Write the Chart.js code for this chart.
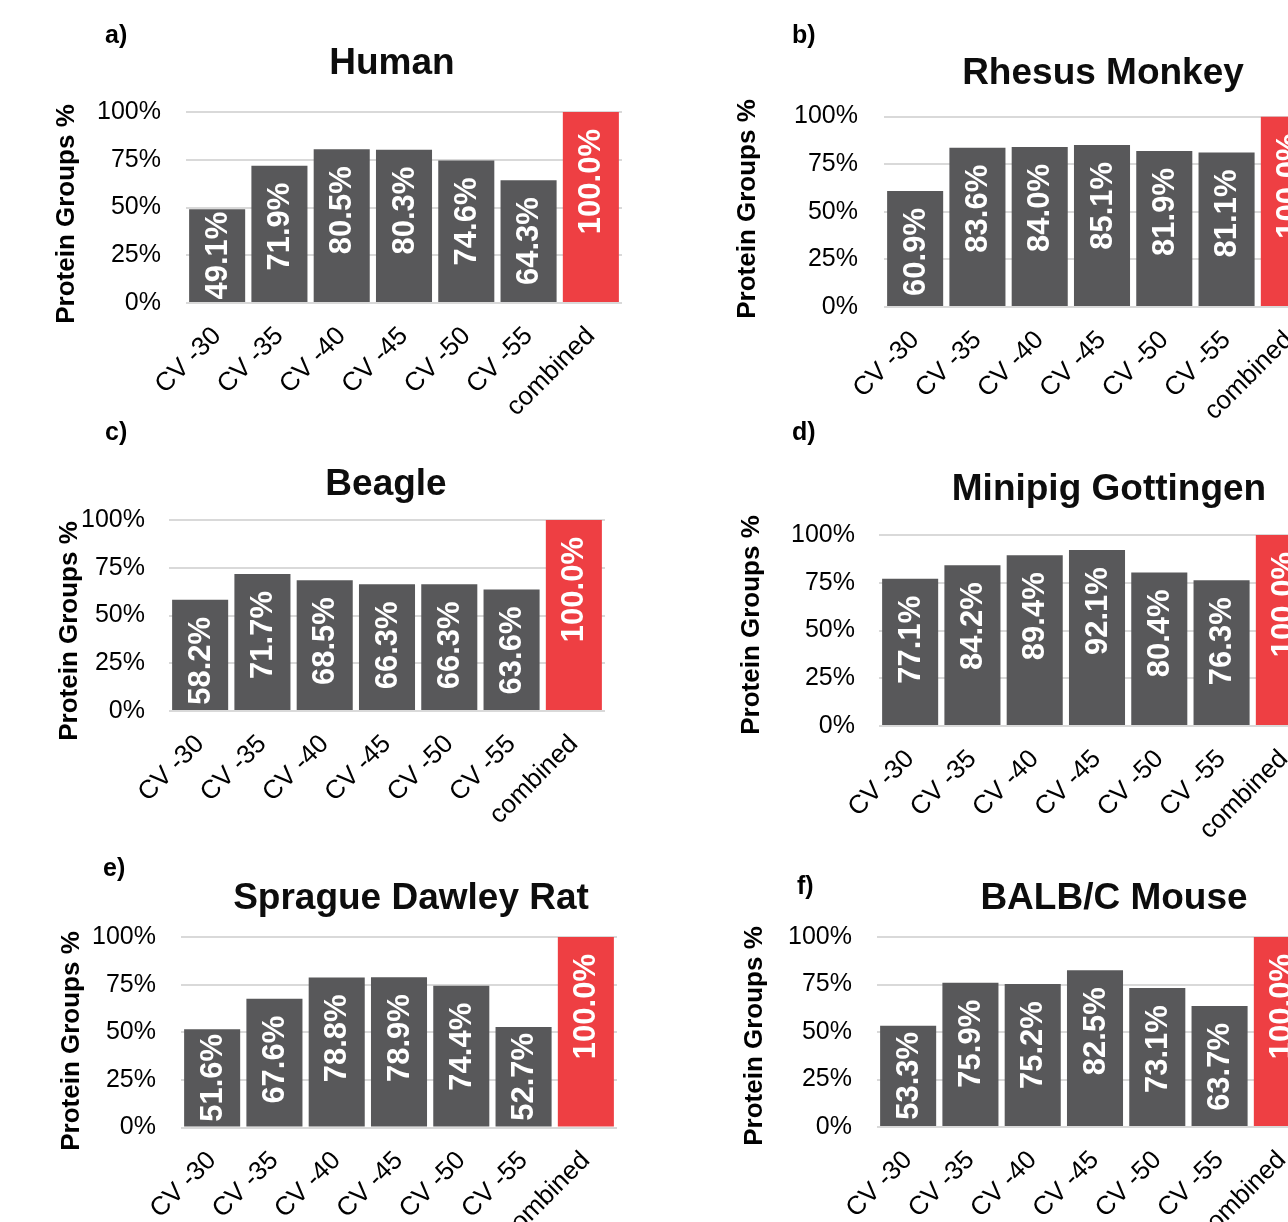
<!DOCTYPE html>
<html>
<head>
<meta charset="utf-8">
<script src="https://cdn.jsdelivr.net/npm/chart.js@4.4.1/dist/chart.umd.min.js"></script>
<style>
  html, body { margin: 0; padding: 0; background: #fff; overflow: hidden; width: 1288px; height: 1222px; position: relative; }
  canvas { position: absolute; }
</style>
</head>
<body>
<canvas id="panelA"></canvas>
<canvas id="panelB"></canvas>
<canvas id="panelC"></canvas>
<canvas id="panelD"></canvas>
<canvas id="panelE"></canvas>
<canvas id="panelF"></canvas>
<script>
// Protein groups identified per compensation voltage, as % of the combined set
const categories = ['CV -30', 'CV -35', 'CV -40', 'CV -45', 'CV -50', 'CV -55', 'combined'];
const humanValues   = [49.1, 71.9, 80.5, 80.3, 74.6, 64.3, 100.0];
const rhesusValues  = [60.9, 83.6, 84.0, 85.1, 81.9, 81.1, 100.0];
const beagleValues  = [58.2, 71.7, 68.5, 66.3, 66.3, 63.6, 100.0];
const minipigValues = [77.1, 84.2, 89.4, 92.1, 80.4, 76.3, 100.0];
const ratValues     = [51.6, 67.6, 78.8, 78.9, 74.4, 52.7, 100.0];
const mouseValues   = [53.3, 75.9, 75.2, 82.5, 73.1, 63.7, 100.0];
const yTickValues   = [0, 25, 50, 75, 100];
const panelTitles   = ['Human', 'Rhesus Monkey', 'Beagle', 'Minipig Gottingen', 'Sprague Dawley Rat', 'BALB/C Mouse'];
const panelLetters  = ['a)', 'b)', 'c)', 'd)', 'e)', 'f)'];
const yAxisTitle    = 'Protein Groups %';

const FONT = "'Liberation Sans', Arial, Helvetica, sans-serif";
const GRAY = '#58585a';
const RED = '#ee3f43';
const GRID = '#d9d9d9';

// Layout of each panel on the page: canvas box, plot area, label anchors
const layouts = [
  { box: [0, 0, 650, 440],    plot: [186, 112, 622, 303],   tickRight: 161, yTitle: [67, 214],  letter: [105, 35],  title: [392, 64] },
  { box: [650, 0, 700, 440],  plot: [884, 116.5, 1320, 307], tickRight: 858, yTitle: [748, 209], letter: [792, 35],  title: [1103, 74] },
  { box: [0, 420, 650, 440],  plot: [169, 520, 605, 711],   tickRight: 145, yTitle: [70, 631],  letter: [105, 432], title: [386, 485] },
  { box: [650, 420, 700, 440],plot: [879, 535, 1315, 726],  tickRight: 855, yTitle: [752, 625], letter: [792, 432], title: [1109, 490] },
  { box: [0, 840, 650, 382],  plot: [181, 937, 617, 1127.5],tickRight: 156, yTitle: [72, 1041], letter: [103, 868], title: [411, 899] },
  { box: [650, 840, 700, 382],plot: [877, 937, 1313, 1127], tickRight: 852, yTitle: [755, 1036],letter: [797, 886], title: [1114, 899] }
];
const seriesList = [humanValues, rhesusValues, beagleValues, minipigValues, ratValues, mouseValues];
const canvasIds = ['panelA', 'panelB', 'panelC', 'panelD', 'panelE', 'panelF'];

// Draws the panel letter, chart title, vertical axis title and in-bar value labels
const panelTextPlugin = {
  id: 'panelText',
  afterDatasetsDraw(chart) {
    const ctx = chart.ctx;
    const meta = chart.getDatasetMeta(0);
    const data = chart.data.datasets[0].data;
    ctx.save();
    ctx.font = 'bold 31px ' + FONT;
    ctx.fillStyle = '#ffffff';
    ctx.textBaseline = 'middle';
    ctx.textAlign = 'left';
    meta.data.forEach((bar, i) => {
      const txt = data[i].toFixed(1) + '%';
      const w = ctx.measureText(txt).width;
      const top = bar.y, base = bar.base;
      let startY = top + 17 + w;
      if (startY > base - 3) {
        startY = (top + base) / 2 + w / 2;
      }
      ctx.save();
      ctx.translate(bar.x, startY);
      ctx.rotate(-Math.PI / 2);
      ctx.fillText(txt, 0, 1);
      ctx.restore();
    });
    ctx.restore();
  },
  afterDraw(chart) {
    const o = chart.options.plugins.panelText;
    const ctx = chart.ctx;
    const [bx, by] = o.box;
    ctx.save();
    ctx.fillStyle = '#000';
    ctx.textBaseline = 'middle';
    ctx.font = 'bold 25px ' + FONT;
    ctx.textAlign = 'left';
    ctx.fillText(o.letter, o.letterPos[0] - bx, o.letterPos[1] - by + 1);
    ctx.font = 'bold 37px ' + FONT;
    ctx.textAlign = 'center';
    ctx.fillStyle = '#0d0d0d';
    ctx.fillText(o.title, o.titlePos[0] - bx, o.titlePos[1] - by);
    ctx.font = 'bold 26px ' + FONT;
    ctx.fillStyle = '#000';
    ctx.translate(o.yTitlePos[0] - bx, o.yTitlePos[1] - by);
    ctx.rotate(-Math.PI / 2);
    ctx.fillText(yAxisTitle, 0, 0);
    ctx.restore();
  }
};

layouts.forEach((L, k) => {
  const canvas = document.getElementById(canvasIds[k]);
  const [bx, by, bw, bh] = L.box;
  canvas.width = bw;
  canvas.height = bh;
  canvas.style.left = bx + 'px';
  canvas.style.top = by + 'px';
  canvas.style.width = bw + 'px';
  canvas.style.height = bh + 'px';
  const [pl, pt, pr, pb] = L.plot;
  const values = seriesList[k];
  const colors = values.map((v, i) => (i === categories.length - 1 ? RED : GRAY));

  new Chart(canvas, {
    type: 'bar',
    data: {
      labels: categories,
      datasets: [{
        data: values,
        backgroundColor: colors,
        borderWidth: 0,
        barPercentage: 0.9,
        categoryPercentage: 1.0
      }]
    },
    options: {
      responsive: false,
      animation: false,
      devicePixelRatio: 1,
      layout: { padding: { left: 0, top: pt - by, right: bx + bw - pr, bottom: 0 } },
      plugins: {
        legend: { display: false },
        tooltip: { enabled: false },
        title: { display: false },
        panelText: {
          box: L.box,
          letter: panelLetters[k],
          letterPos: L.letter,
          title: panelTitles[k],
          titlePos: L.title,
          yTitlePos: L.yTitle
        }
      },
      scales: {
        x: {
          type: 'category',
          grid: { display: false, drawTicks: false },
          border: { display: false },
          ticks: {
            autoSkip: false,
            minRotation: 45,
            maxRotation: 45,
            padding: 18,
            color: '#000',
            font: { family: FONT, size: 26 }
          },
          afterFit(s) { s.height = by + bh - pb; }
        },
        y: {
          min: 0,
          max: 100,
          grid: { color: GRID, lineWidth: 2, drawTicks: false },
          border: { display: false },
          ticks: {
            padding: pl - L.tickRight,
            color: '#000',
            font: { family: FONT, size: 25 },
            callback: v => v + '%'
          },
          afterBuildTicks(s) { s.ticks = yTickValues.map(v => ({ value: v })); },
          afterFit(s) { s.width = pl - bx; }
        }
      }
    },
    plugins: [panelTextPlugin]
  });
});
</script>
</body>
</html>
